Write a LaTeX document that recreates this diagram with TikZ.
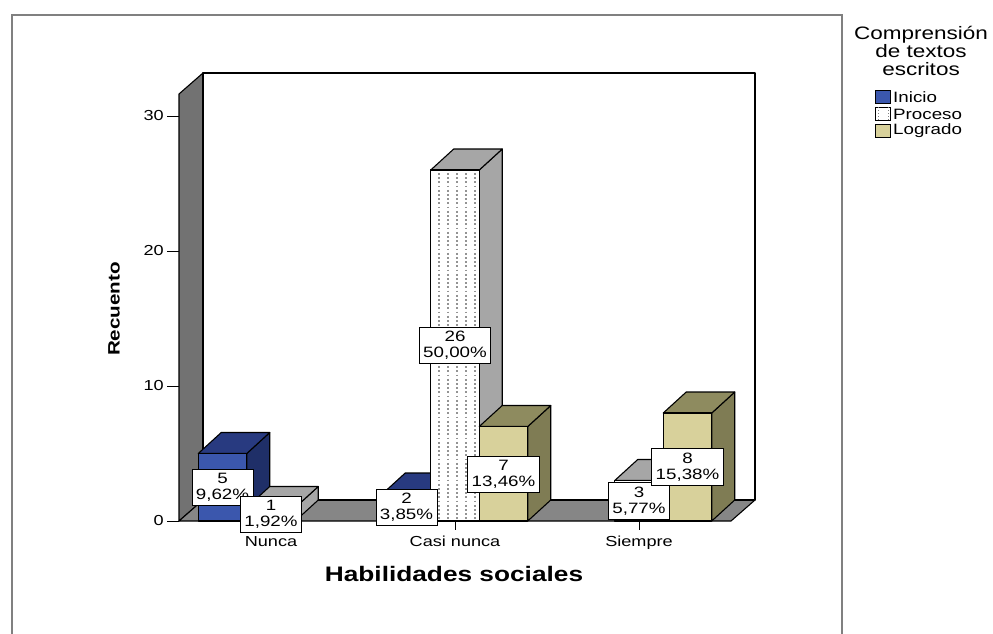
\documentclass[tikz,border=0pt]{standalone}
\usepackage{fontspec}
\setmainfont{Liberation Sans}
\newfontfamily\wide{Liberation Sans}[FakeStretch=1.25]
\usetikzlibrary{positioning}

\definecolor{inicioF}{HTML}{3B57AD}
\definecolor{inicioT}{HTML}{283A80}
\definecolor{inicioS}{HTML}{1F2F68}
\definecolor{logradoF}{HTML}{D8D19B}
\definecolor{logradoT}{HTML}{8E8B5F}
\definecolor{logradoS}{HTML}{7F7C54}
\definecolor{procesoT}{HTML}{A6A6A6}
\definecolor{wallgray}{HTML}{727272}
\definecolor{floorgray}{HTML}{868686}
\definecolor{framegray}{HTML}{808080}

% 3D bar: left x, value, front, top, side
\newcommand{\cube}[5]{%
  \pgfmathsetmacro{\ytop}{521-13.5*#2}%
  \filldraw[barline, fill=#5] (#1+48.5,521) -- ++(23,-21) -- (#1+71.5,\ytop-21) -- (#1+48.5,\ytop) -- cycle;
  \filldraw[barline, fill=#4] (#1,\ytop) -- ++(23,-21) -- ++(48.5,0) -- (#1+48.5,\ytop) -- cycle;
  \filldraw[barline, fill=#3] (#1,521) rectangle (#1+48.5,\ytop);
}
% dotted columns on the Proceso bars
\newcommand{\dotcols}[2]{%
  \pgfmathsetmacro{\ytop}{521-13.5*#2}%
  \foreach \k in {1,...,5}
    \draw[dotline] (#1+\k*9-0.5,\ytop+3) -- (#1+\k*9-0.5,519);
}

\begin{document}
\begin{tikzpicture}[x=1pt,y=-1pt,
  barline/.style={draw=black, line width=1.1pt, line join=round},
  dotline/.style={gray!85, line width=1.7pt, dash pattern=on 1.8pt off 2.4pt},
  lbl/.style={draw=black, line width=0.8pt, fill=white, align=center,
    inner xsep=4pt, inner ysep=4pt, font=\wide\fontsize{15}{16}\selectfont},
  ticklbl/.style={inner sep=0pt, font=\wide\fontsize{14.5}{16}\selectfont},
  legbox/.style={draw=black, line width=1pt, minimum width=15pt,
    minimum height=13pt, inner sep=0pt},
  legtxt/.style={inner sep=0pt, font=\wide\fontsize{15}{16}\selectfont}]

  \useasboundingbox (0,0) rectangle (993,634);

  % Frame
  \draw[framegray, line width=1.5pt] (12,634) -- (12,15) -- (842,15) -- (842,634);

  % Walls and floor
  \filldraw[barline, fill=wallgray] (179,521) -- (179,94) -- (203,73) -- (203,500) -- cycle;
  \filldraw[barline, fill=floorgray] (179,521) -- (203,500) -- (755,500) -- (731,521) -- cycle;
  \filldraw[barline, fill=white] (203,73) rectangle (755,500);

  % Axes
  \foreach \v in {0,10,20,30} {
    \draw[line width=0.8pt] (167,521-13.5*\v) -- (179,521-13.5*\v);
    \node[ticklbl, anchor=east] at (164,521-13.5*\v) {\v};
  }
  \foreach \c in {271,455,639}
    \draw[line width=0.8pt] (\c,521) -- (\c,530);
  \node[ticklbl, anchor=base] (lab-n) at (271,546) {Nunca};
  \node[ticklbl, anchor=base] (lab-cn) at (455,546) {Casi nunca};
  \node[ticklbl, anchor=base] (lab-s) at (639,546) {Siempre};
  \node[rotate=90, inner sep=0pt, font=\wide\bfseries\fontsize{16.5}{18}\selectfont] (ylabel) at (114,309) {Recuento};
  \node[inner sep=0pt, font=\wide\bfseries\fontsize{21}{24}\selectfont] (xlabel) at (454,574) {Habilidades sociales};

  % Bars
  \cube{198.25}{5}{inicioF}{inicioT}{inicioS}
  \cube{246.75}{1}{white}{procesoT}{procesoT}
  \dotcols{246.75}{1}
  \cube{382.25}{2}{inicioF}{inicioT}{inicioS}
  \cube{430.75}{26}{white}{procesoT}{procesoT}
  \dotcols{430.75}{26}
  \cube{479.25}{7}{logradoF}{logradoT}{logradoS}
  \cube{614.75}{3}{white}{procesoT}{procesoT}
  \dotcols{614.75}{3}
  \cube{663.25}{8}{logradoF}{logradoT}{logradoS}

  % Labels
  \node[lbl] (n-ini) at (222.5,487.25) {5\\9,62\%};
  \node[lbl] (n-pro) at (271,514.25) {1\\1,92\%};
  \node[lbl] (cn-ini) at (406.5,507.5) {2\\3,85\%};
  \node[lbl] (cn-pro) at (455,345.5) {26\\50,00\%};
  \node[lbl] (cn-log) at (503.5,474.5) {7\\13,46\%};
  \node[lbl] (s-pro) at (639,500.75) {3\\5,77\%};
  \node[lbl] (s-log) at (687.5,467) {8\\15,38\%};

  % Legend
  \node[inner sep=0pt, align=center, anchor=north, font=\wide\fontsize{18}{18}\selectfont] (legtitle) at (921,26) {Comprensión\\de textos\\escritos};
  \node[legbox, fill=inicioF] (key-ini) at (883,97) {};
  \node[legbox, fill=white] (key-pro) at (883,114) {};
  \node[legbox, fill=logradoF] (key-log) at (883,131) {};
  \draw[gray, line width=1pt, dash pattern=on 1.2pt off 1.8pt] ([xshift=3pt]key-pro.north west) -- ([xshift=3pt]key-pro.south west);
  \draw[gray, line width=1pt, dash pattern=on 1.2pt off 1.8pt] ([xshift=-3pt]key-pro.north east) -- ([xshift=-3pt]key-pro.south east);
  \node[legtxt, right=2pt of key-ini] (txt-ini) {Inicio};
  \node[legtxt, right=2pt of key-pro] (txt-pro) {Proceso};
  \node[legtxt, right=2pt of key-log] (txt-log) {Logrado};
\end{tikzpicture}
\end{document}
